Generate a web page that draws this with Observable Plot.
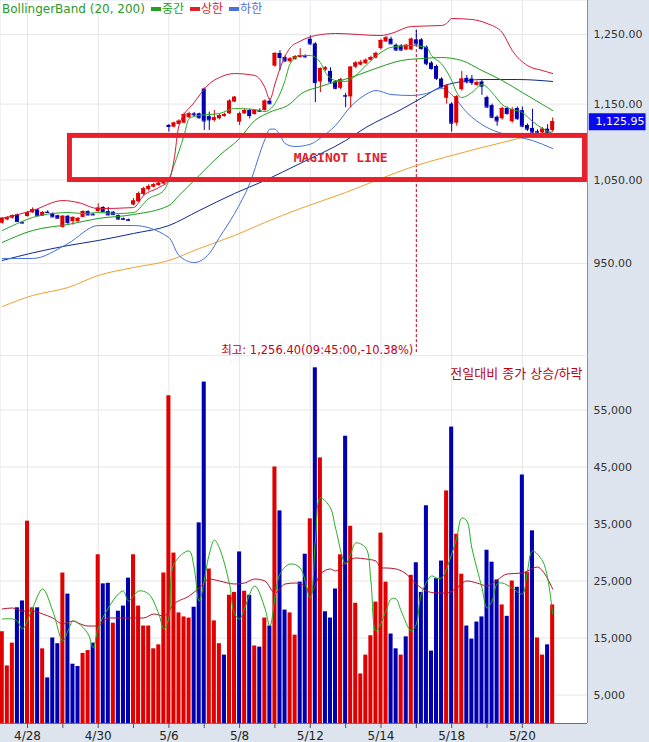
<!DOCTYPE html>
<html><head><meta charset="utf-8">
<script src="https://cdn.jsdelivr.net/npm/d3@7"></script>
<script src="https://cdn.jsdelivr.net/npm/@observablehq/plot@0.6"></script>
<style>
body{margin:0;background:#fff;}
#chart{position:relative;width:649px;height:742px;background:#dde4ee;overflow:hidden;font-family:"DejaVu Sans","Noto Sans CJK KR",sans-serif;}
#chart svg{position:absolute;left:0;display:block;}
#legend{position:absolute;left:2px;top:1px;font-size:12px;line-height:16px;white-space:nowrap;z-index:5;}
#legend .sw{display:inline-block;width:10px;height:4px;vertical-align:middle;margin:0 1px 2px 6px;}
</style></head><body><div id="chart"><div id="legend"></div></div>
<script>
// ---------- DATA ----------
const dateLabels = ["4/28","4/30","5/6","5/8","5/12","5/14","5/18","5/20"];
const labelIdx   = [5,19,33,47,61,75,89,103];
const dayStartIdx = [5,12,19,26,33,40,47,54,61,68,75,82,89,96,103];
const priceTicks = [950,1050,1150,1250];
const volTicks = [5000,15000,25000,35000,45000,55000];

const opens = [997,1001,1003,1007,998,1005,1009.5,1013,1005.5,1010.3,1008.7,1006,992,1005.4,998.8,998.8,1004,1011,1007.8,1011,
1016,1011,1010.3,1006.2,1002.5,1001.3,1019,1023,1032,1038,1041,1043,1045,1121,1118.7,1122.3,1124.1,1131.3,1136.7,1136.7,
1171,1133,1127.6,1129.9,1133.1,1136.7,1152.7,1125.4,1136.7,1141.2,1135.8,1141.2,1141.2,1154.1,1203.5,1222,1216,1210,1213,1216,
1218,1243,1236,1181,1198,1196,1181,1172,1162,1160,1202,1205,1207,1212,1215,1229,1239,1243,1234,1233,
1227,1227,1242,1242,1231,1208,1203,1185,1158,1150,1124,1170,1186,1185,1176,1181,1159,1148,1132,1130,
1144,1126,1144,1141,1121,1117,1113,1111,1116,1114];
const highs = [1004,1005,1007,1008,999,1011,1015.5,1013.5,1011,1012,1009.5,1006.6,1006,1006.2,1004.6,1003.7,1012,1012,1008.7,1020.5,
1017,1016,1011,1007,1003.3,1002,1027,1035,1041,1044,1046,1048,1051,1122.3,1125.4,1128.5,1137.6,1139,1138.5,1137.6,
1172.5,1139,1141.2,1136.7,1137.6,1156,1160.4,1139,1143.5,1143,1142.1,1143.5,1156,1157.4,1223,1226,1218,1216,1219,1229,
1220,1248,1238,1201,1203,1201,1183,1186,1165,1203,1210,1212,1214,1218,1224,1243,1247,1246,1236,1235,
1235,1245,1256.4,1244,1233,1210,1205,1187,1177,1152,1162,1196,1190,1190,1182,1183,1161,1150,1134,1146,
1146,1145,1146,1146,1123,1143,1115,1118,1122,1131];
const lows = [996,1000,1002,998.4,996.8,1004.5,1009,1005,1005,1008.7,1004,1002.5,991,994.7,994.7,998,1003.7,1006,1006.2,1010.3,
1010.3,1006.2,1007,1001,1000.5,999.6,1018,1022,1030,1036,1040,1042,1044,1112,1117.8,1121.9,1123.2,1130.4,1132.2,1129.5,
1114.2,1114.2,1125.4,1128.5,1132.2,1135.8,1152.2,1120.9,1135.8,1129.9,1134.9,1138.5,1140.3,1149.5,1202,1197,1209,1208,1212,1215,
1215,1234,1152,1166,1196,1178,1170,1170,1145,1145,1200,1204,1206,1211,1214,1227,1238,1235,1225,1225,
1226,1226,1234,1227,1204,1198,1183,1172,1150,1112,1120,1168,1178,1176,1175,1162,1144,1130,1120,1128,
1135,1124,1128,1118,1113,1110,1108,1109,1110,1112];
const closes = [1003,1004,1006,999,997.2,1009.5,1013.5,1006,1010,1009.9,1004.6,1003,1005.4,998,1004,1002.9,1011,1007,1007,1015.2,
1011,1007,1007.4,1002,1001.7,1000.5,1024,1033,1039,1042,1044,1046,1049,1119.6,1124.1,1126.7,1135.8,1136.7,1135.3,1131.3,
1127,1128.5,1131.3,1134.4,1135.8,1154.1,1159.5,1136.7,1141.2,1134.4,1141.2,1140.3,1154.1,1150.4,1222,1216,1211,1214,1217,1219,
1217,1236,1180,1200,1201,1181,1172,1184,1161,1202,1208,1209,1212,1216,1222,1241,1245,1236,1227,1227,
1234,1243,1236,1229,1207,1200,1186,1174,1175,1124,1160,1185,1181,1180,1180,1175,1146,1132,1127,1144,
1137,1142,1130,1120,1116,1112,1112,1116,1112,1125.95];

const volumes = [16100,10100,14100,20300,21500,35500,20300,20300,13100,8000,15000,14000,26400,22700,10400,10000,12300,12800,14100,29600,
24500,24600,17600,19700,20600,25500,29600,20600,17100,17100,13100,13800,26400,57500,29900,19400,18700,18500,20400,35200,
59900,27100,18000,14000,12000,22500,23000,30100,23200,22500,13600,13400,18500,17100,45000,37300,19900,19400,15500,24800,
29700,35900,62400,46600,19600,18500,23600,29600,50400,34600,21100,8700,12000,15400,21300,33400,24800,15700,13100,12000,
15200,26000,28200,23000,38200,12700,25400,28500,40800,52000,33200,26200,17100,14800,17800,18700,30400,28300,25200,20800,
18800,25000,23900,43600,26500,33800,15000,12000,13800,20800];
const volDir = ["u","u","u","d","d","u","u","d","u","d","d","d","u","d","d","d","u","u","d","u",
"d","d","u","d","d","d","u","u","u","u","u","u","u","u","u","u","u","u","d","d",
"d","u","u","u","d","u","u","d","u","d","u","d","u","d","u","d","d","u","u","d",
"d","u","d","u","d","d","d","u","d","u","u","u","u","u","u","u","u","d","d","u",
"d","u","d","d","d","d","d","d","u","d","u","u","d","d","d","d","d","d","d","u",
"d","u","d","d","u","d","u","u","d","u"];

// indicator lines: [bar index, value]
const bbUpper = [[0,1002.7],[6,1012.3],[12,1024.5],[15,1022.1],[19,1014.7],[26,1015.9],[28,1030.7],[31,1040.6],[33,1049.4],[34,1074.8],
[35,1120.9],[38,1152.2],[41,1178.3],[43,1187.2],[46,1192.9],[50,1190.1],[52,1173.2],[53,1156.4],[54,1178],[55,1200],[56,1218],
[57,1230],[59,1240],[62,1248.5],[66,1251.5],[75,1248.5],[77,1251.5],[81,1262.1],[87,1263.6],[88,1266.6],[89,1274.2],[93,1272.7],
[96,1266.6],[99,1253],[101,1226.3],[104,1204.4],[107,1197.2],[109,1192.9]];
const bbMiddle = [[0,974.3],[6,988.4],[13,995.5],[19,1002.7],[26,1007.5],[33,1018.4],[35,1030.7],[39,1055.7],[43,1081.3],[47,1103.6],
[50,1127.6],[53,1138.9],[57,1150.4],[59,1163.3],[63,1174.5],[69,1187.2],[75,1202.9],[79,1211.6],[83,1214.5],[87,1216],
[91,1211.6],[95,1197.2],[99,1183],[103,1166.1],[107,1149.4],[109,1141.2]];
const bbLower = [[0,955.8],[6,955.8],[13,973],[19,994.3],[26,994.3],[33,980.1],[35,959.2],[38,951.2],[41,961.5],[43,980.1],
[46,1008.7],[49,1045.6],[52,1102],[53,1116],[54,1116],[55,1108],[56,1097],[58,1093],[61,1096],[63,1104],[66,1121],[69,1146.6],
[72,1163.3],[74,1168.9],[77,1163.3],[81,1161.9],[84,1164.7],[87,1171.8],[89,1163.3],[92,1138.5],[96,1118.2],[99,1110.2],
[105,1100.9],[109,1090.4]];
const maFast = [[0,988.4],[3,996.7],[6,1003.9],[10,1008.7],[13,1009.9],[16,1008.7],[19,1009.9],[23,1008.7],[26,1009.9],[29,1026.9],
[32,1036.9],[34,1068.4],[36,1107.5],[37,1130.3],[39,1134.4],[43,1137.1],[46,1143.9],[50,1142.6],[52,1139.8],[54,1150.8],
[56,1183],[57,1206.8],[59,1218.9],[61,1218.9],[63,1208.7],[64,1194.4],[66,1183],[68,1181.6],[70,1190.1],[72,1204.4],
[75,1223.4],[77,1230.9],[81,1233.6],[84,1230.9],[85,1218.9],[87,1206.8],[89,1183],[90,1166.1],[91,1159.1],[93,1166.1],
[95,1177.3],[97,1166.1],[99,1149.4],[101,1142.6],[103,1138.5],[105,1126.3],[107,1116.9],[109,1110.2]];
const maSlow = [[0,953.5],[6,962.2],[13,970.7],[19,976.6],[26,984.9],[33,994.3],[39,1012.3],[46,1033.2],[52,1049.4],[59,1071.1],
[68,1100.9],[72,1118.2],[79,1142.6],[83,1158.2],[87,1174.5],[90,1180.2],[95,1184.4],[102,1184.4],[109,1181.6]];
const maLong = [[0,902.3],[6,914.3],[13,923.1],[19,936.5],[26,945.5],[33,953.5],[39,967.3],[46,982.5],[52,997.9],[59,1014.7],
[68,1034.4],[74,1049.4],[82,1068.4],[89,1081.3],[95,1091.7],[99,1098.2],[103,1104.8],[109,1112.9]];

const volMaShort = [[0,18333],[2,18333],[3,17982],[4,16579],[6,20263],[8,23596],[10,19737],[12,14474],[13,16228],[14,17982],
[15,17632],[17,15702],[18,13281],[19,16754],[21,20263],[23,22719],[24,23246],[25,21491],[27,23246],[29,22719],[31,19211],
[32,16579],[33,18509],[34,27982],[37,30263],[38,27281],[39,21491],[41,29737],[42,32193],[43,30789],[45,24474],[46,19211],
[47,18333],[48,20263],[50,24123],[52,20263],[53,17105],[55,26228],[57,27982],[59,27281],[61,22018],[62,32018],[63,39561],
[65,37807],[66,34298],[68,27982],[69,29737],[70,31667],[72,30789],[73,25000],[74,16228],[76,19737],[77,21842],[78,21842],
[79,19737],[81,16228],[82,17456],[83,22719],[85,25877],[86,25526],[87,25526],[89,29737],[90,32544],[91,36053],[92,35526],
[93,30789],[95,23772],[96,20263],[97,21491],[98,24474],[99,24649],[101,23772],[103,22719],[104,26754],[105,30263],
[107,28509],[108,25526],[109,19211]];
const volMaLong = [[0,20088],[2,20263],[4,19737],[6,19737],[8,19211],[10,18509],[12,17456],[14,17982],[15,17632],[17,17105],
[19,17105],[21,18509],[23,18509],[26,18509],[28,18509],[30,19211],[32,18860],[34,20965],[37,22368],[39,23772],[41,25351],
[43,25000],[46,24474],[48,24649],[50,25351],[52,25000],[54,22895],[56,24474],[58,24649],[60,24123],[61,22719],[63,26228],
[65,27105],[66,26754],[68,28158],[70,29035],[72,28860],[74,28509],[75,27281],[76,27281],[78,27105],[80,26228],[82,24474],
[84,23246],[86,22895],[88,22895],[90,23772],[92,25000],[94,24649],[96,24123],[98,25175],[100,26228],[103,26404],[104,26754],
[106,27456],[107,26754],[109,23596]];

const highMark = {i: 82, price: 1256.4, text: "최고: 1,256.40(09:45:00,-10.38%)"};
const maginot = {x1: 13.4, x2: 115.4, y1: 1050, y2: 1107, label: "MAGINOT LINE", lx: 67, ly: 1078.7};
const volNote = "전일대비 종가 상승/하락";

// ---------- STYLE ----------
const UP = "#e00000", DN = "#0000b0";
const GRID = "#e6e6e6";
const W = 649, MR = 62;
const xDomain = [-0.35, 115.9];
const priceDomain = [850.9, 1302];
const volDomain = [0, 64561];
const font = "DejaVu Sans, Noto Sans CJK KR, sans-serif";

const candles = d3.range(opens.length).map(i => ({i, o: opens[i], h: highs[i], l: lows[i], c: closes[i]}));
const vols = d3.range(volumes.length).map(i => ({i, v: volumes[i], d: volDir[i]}));
const cCol = d => d.c >= d.o ? UP : DN;
const pts = arr => arr.map(([i, v]) => ({i, v}));
const lastClose = closes[closes.length - 1];

const topPlot = Plot.plot({
  width: W, height: 355, marginLeft: 0, marginRight: MR, marginTop: 0, marginBottom: 0,
  style: {background: "transparent", fontFamily: font, fontSize: "11px", overflow: "visible"},
  x: {domain: xDomain, axis: null},
  y: {type: "log", domain: priceDomain, axis: null},
  marks: [
    Plot.frame({fill: "white", stroke: null}),
    Plot.gridY(priceTicks, {stroke: GRID, strokeOpacity: 1}),
    Plot.gridX(labelIdx, {stroke: GRID, strokeOpacity: 1}),
    Plot.ruleX([highMark], {x: "i", y1: priceDomain[0] * 1.0035, y2: "price", stroke: "#c00018", strokeDasharray: "3,2", strokeWidth: 1}),
    Plot.line(pts(maLong), {x: "i", y: "v", stroke: "#f0a030", strokeWidth: 1, curve: "monotone-x"}),
    Plot.line(pts(maSlow), {x: "i", y: "v", stroke: "#0c2a90", strokeWidth: 1, curve: "monotone-x"}),
    Plot.line(pts(bbLower), {x: "i", y: "v", stroke: "#4470d8", strokeWidth: 1, curve: "monotone-x"}),
    Plot.ruleX(candles, {x: "i", y1: "l", y2: "h", stroke: cCol, strokeWidth: 1}),
    Plot.rect(candles, {x1: d => d.i - 0.4, x2: d => d.i + 0.4, y1: "o", y2: "c", fill: cCol}),
    Plot.ruleY(candles, {x1: d => d.i - 0.4, x2: d => d.i + 0.4, y: "c", stroke: cCol}),
    Plot.line(pts(bbMiddle), {x: "i", y: "v", stroke: "#1c9c1c", strokeWidth: 1, curve: "monotone-x"}),
    Plot.line(pts(maFast), {x: "i", y: "v", stroke: "#28a828", strokeWidth: 1, curve: "monotone-x"}),
    Plot.line(pts(bbUpper), {x: "i", y: "v", stroke: "#d81838", strokeWidth: 1, curve: "monotone-x"}),
    Plot.rect([maginot], {x1: "x1", x2: "x2", y1: "y1", y2: "y2", fill: "none", stroke: "#e8202c", strokeWidth: 5}),
    Plot.text([maginot], {x: "lx", y: "ly", text: "label", fill: "#e0202a", fontSize: 13, fontWeight: "bold", fontFamily: "DejaVu Sans Mono, monospace"}),
    Plot.text([highMark], {x: "i", y: priceDomain[0] * 1.0058, text: "text", textAnchor: "end", dx: -3, fill: "#c00018", fontSize: 11.5}),
    Plot.ruleX([xDomain[1]], {stroke: "#8a8f98", strokeWidth: 1}),
    Plot.axisY({anchor: "right", label: null, ticks: priceTicks, tickSize: 0, tickPadding: 6, textAnchor: "start", tickFormat: d3.format(",.2f"), fill: "#333", fontSize: 11}),
    Plot.ruleY([lastClose], {x1: xDomain[1] + 0.35, x2: xDomain[1] + 11.6, stroke: "#0a0af0", strokeWidth: 17}),
    Plot.text([lastClose], {x: xDomain[1], y: d => d, text: d => d3.format(",.2f")(d), textAnchor: "start", dx: 8, fill: "white", fontSize: 11})
  ]
});

const botPlot = Plot.plot({
  width: W, height: 387, marginLeft: 0, marginRight: MR, marginTop: 0, marginBottom: 19,
  style: {background: "transparent", fontFamily: font, fontSize: "11px", overflow: "visible"},
  x: {domain: xDomain, axis: null},
  y: {domain: volDomain, axis: null},
  marks: [
    Plot.frame({fill: "white", stroke: null}),
    Plot.gridY(volTicks, {stroke: GRID, strokeOpacity: 1}),
    Plot.gridX(labelIdx, {stroke: GRID, strokeOpacity: 1}),
    Plot.ruleY([volDomain[1]], {stroke: "#d4d4d4"}),
    Plot.rectY(vols, {x1: d => d.i - 0.4, x2: d => d.i + 0.4, y: "v", fill: d => d.d === "u" ? UP : DN}),
    Plot.line(pts(volMaLong), {x: "i", y: "v", stroke: "#b8102c", strokeWidth: 1, curve: "monotone-x"}),
    Plot.line(pts(volMaShort), {x: "i", y: "v", stroke: "#22b022", strokeWidth: 1, curve: "catmull-rom"}),
    Plot.text([volNote], {x: xDomain[1], y: 61300, text: d => d, textAnchor: "end", dx: -5, fill: "#c00018", fontSize: 13}),
    Plot.ruleX([xDomain[1]], {stroke: "#8a8f98", strokeWidth: 1}),
    Plot.ruleY([0], {stroke: "#6a7078", strokeWidth: 1}),
    Plot.axisY({anchor: "right", label: null, ticks: volTicks, tickSize: 0, tickPadding: 6, textAnchor: "start", tickFormat: d3.format(","), fill: "#333", fontSize: 11}),
    Plot.axisX({anchor: "bottom", label: null, ticks: dayStartIdx, tickSize: 5, tickPadding: 3, tickFormat: i => { const k = labelIdx.indexOf(i); return k >= 0 ? dateLabels[k] : ""; }, fill: "#222", fontSize: 12, stroke: "#555"})
  ]
});

const chart = document.getElementById("chart");
botPlot.style.top = "355px";
topPlot.style.top = "0px";
chart.appendChild(botPlot);
chart.appendChild(topPlot);

// legend
const lg = document.getElementById("legend");
const items = [["중간", "#22a022"], ["상한", "#e0202a"], ["하한", "#4a70e0"]];
lg.innerHTML = `<span style="color:#2a9a2a">BollingerBand (20, 200)</span>` +
  items.map(([t, c]) => `<span class="sw" style="background:${c}"></span><span style="color:${c}">${t}</span>`).join("");
</script></body></html>
